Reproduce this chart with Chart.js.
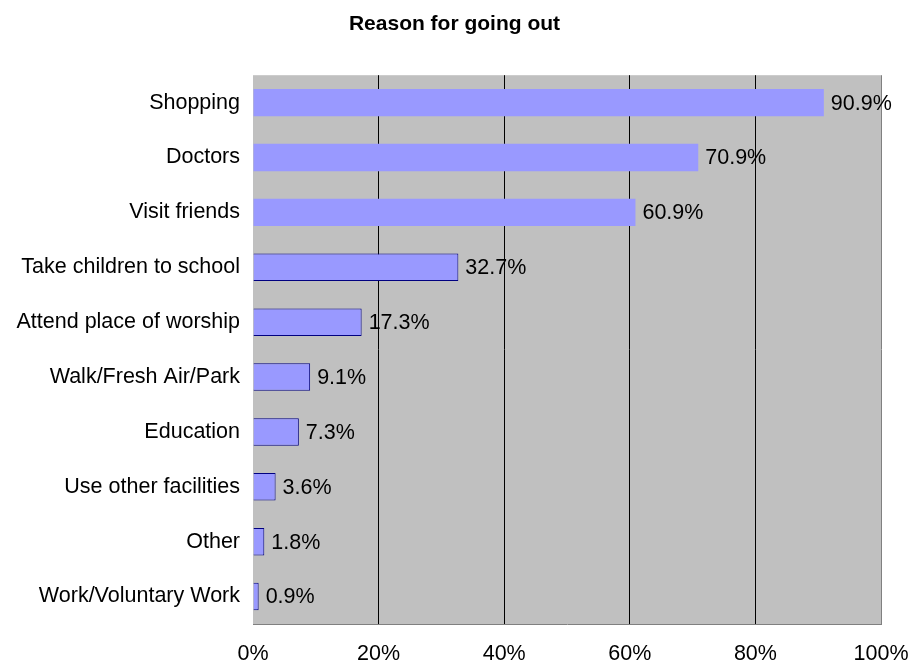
<!DOCTYPE html>
<html><head><meta charset="utf-8">
<script src="https://cdn.jsdelivr.net/npm/chart.js@4/dist/chart.umd.min.js"></script>
<style>html,body{margin:0;padding:0;background:#fff}#wrap{width:909px;height:665px}</style>
</head><body><div id="wrap"><canvas id="c" width="909" height="665"></canvas></div>
<script>
const categories = ["Shopping","Doctors","Visit friends","Take children to school","Attend place of worship","Walk/Fresh Air/Park","Education","Use other facilities","Other","Work/Voluntary Work"];
const values = [90.9,70.9,60.9,32.7,17.3,9.1,7.3,3.6,1.8,0.9];
const xTicks = [0,20,40,60,80,100];
const titleText = "Reason for going out";

const FONT = "'Liberation Sans', Arial, sans-serif";
const FS = 21.5;

const bgPlugin = {
  id:'bg',
  beforeDraw(chart){
    const {ctx, chartArea:a} = chart;
    ctx.save();
    ctx.fillStyle = '#c0c0c0';
    ctx.fillRect(a.left, a.top, a.right-a.left, a.bottom-a.top);
    ctx.restore();
  }
};
const labelPlugin = {
  id:'vals',
  afterDatasetsDraw(chart){
    const {ctx} = chart;
    const meta = chart.getDatasetMeta(0);
    ctx.save();
    ctx.font = FS + "px " + FONT;
    ctx.fillStyle = '#000';
    ctx.textBaseline = 'middle';
    ctx.textAlign = 'left';
    meta.data.forEach((el,i)=>{
      ctx.fillText(values[i].toFixed(1)+'%', el.x + 7, el.y + 1);
    });
    ctx.restore();
  }
};

new Chart(document.getElementById('c'), {
  type:'bar',
  data:{
    labels: categories,
    datasets:[{
      data: values,
      backgroundColor:'#9999ff',
      borderColor:'#000080',
      borderWidth: values.map((v,i)=> i<3 ? 0 : 1),
      borderSkipped:'left',
      barPercentage:0.5,
      categoryPercentage:1.0
    }]
  },
  options:{
    indexAxis:'y',
    responsive:false,
    animation:false,
    layout:{padding:0},
    plugins:{
      legend:{display:false},
      tooltip:{enabled:false},
      title:{display:true,text:titleText,color:'#000',
        font:{family:FONT,size:21,weight:'bold'},
        padding:{top:12,bottom:38}}
    },
    scales:{
      x:{
        min:0,max:100,
        afterBuildTicks(s){ s.ticks = xTicks.map(v=>({value:v})); },
        afterFit(s){ s.height = 41; s.paddingLeft = 0; s.paddingRight = 28; },
        ticks:{callback:v=>v+'%',color:'#000',font:{family:FONT,size:FS},padding:17,maxRotation:0},
        grid:{drawTicks:false,
          color:ctx=> (ctx.tick && (ctx.tick.value===0)) ? 'rgba(0,0,0,0)' : (ctx.tick && ctx.tick.value===100 ? '#808080' : '#000'),
          lineWidth:1},
        border:{display:true,color:'#808080',width:1}
      },
      y:{
        afterFit(s){ s.width = 253; s.paddingTop = 0; s.paddingBottom = 0; },
        ticks:{color:'#000',font:{family:FONT,size:FS},padding:13},
        grid:{display:false,drawTicks:false},
        border:{display:false}
      }
    }
  },
  plugins:[bgPlugin,labelPlugin]
});
</script></body></html>
